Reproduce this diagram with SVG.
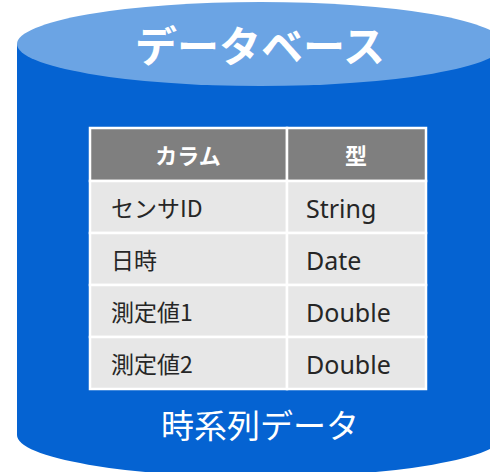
<svg xmlns="http://www.w3.org/2000/svg" width="490" height="472" viewBox="0 0 490 472">
<style>
.t{font-family:"Noto Sans CJK JP","Noto Sans",sans-serif}
.l{font-family:"Noto Sans","Noto Sans CJK JP",sans-serif}
.hd{fill:#ffffff;font-size:22px;font-weight:bold;text-anchor:middle}
.cell{fill:#262626;font-size:23px}
.lat{fill:#262626;font-size:25px}
.hdr{fill:#7f7f7f;stroke:#ffffff;stroke-width:2.5}
.row{fill:#e7e7e7;stroke:#ffffff;stroke-width:2.5}
</style>
<g id="cylinder">
<path d="M17,44 L17,435 A243.5,42 0 0 0 504,435 L504,44 Z" fill="#0563d2"/>
<ellipse cx="260.5" cy="44" rx="243.5" ry="42" fill="#6ba4e4"/>
<text class="t" x="260" y="62" font-size="42" font-weight="bold" fill="#ffffff" text-anchor="middle">データベース</text>
<text class="t" x="260" y="438" font-size="33" fill="#ffffff" text-anchor="middle">時系列データ</text>
</g>
<g id="table">
<rect class="hdr" x="90" y="128" width="197" height="53"/>
<rect class="hdr" x="287" y="128" width="139" height="53"/>
<rect class="row" x="90" y="181" width="197" height="52"/>
<rect class="row" x="287" y="181" width="139" height="52"/>
<rect class="row" x="90" y="233" width="197" height="52"/>
<rect class="row" x="287" y="233" width="139" height="52"/>
<rect class="row" x="90" y="285" width="197" height="52"/>
<rect class="row" x="287" y="285" width="139" height="52"/>
<rect class="row" x="90" y="337" width="197" height="52"/>
<rect class="row" x="287" y="337" width="139" height="52"/>
<text class="t hd" x="188" y="164">カラム</text>
<text class="t hd" x="356" y="164">型</text>
<text class="t cell" x="111" y="217">センサID</text>
<text class="l lat" x="306" y="218">String</text>
<text class="t cell" x="111" y="269">日時</text>
<text class="l lat" x="306" y="270">Date</text>
<text class="t cell" x="111" y="321">測定値1</text>
<text class="l lat" x="306" y="322">Double</text>
<text class="t cell" x="111" y="373">測定値2</text>
<text class="l lat" x="306" y="374">Double</text>
</g>
</svg>
